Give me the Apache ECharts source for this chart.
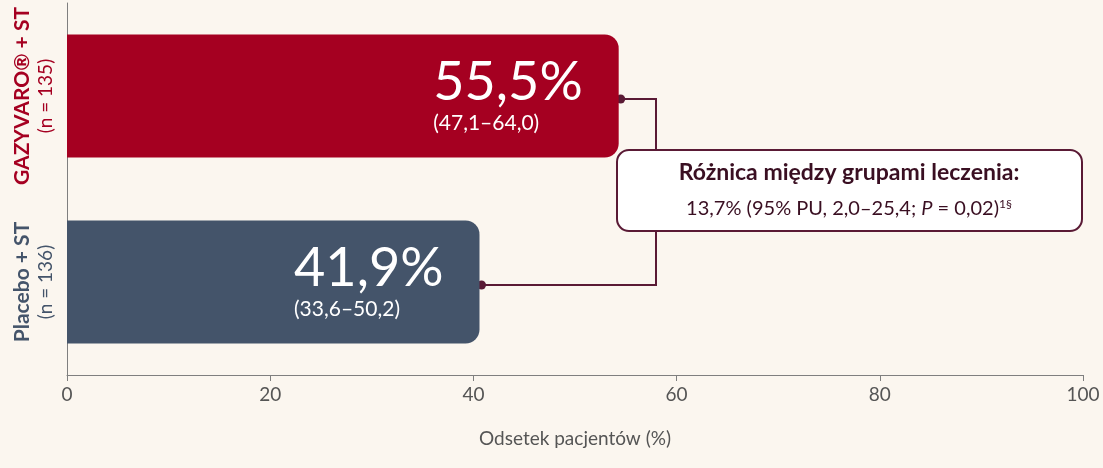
<!DOCTYPE html><html><head><meta charset="utf-8">
<script src="https://cdn.jsdelivr.net/npm/echarts@6/dist/echarts.min.js"></script>
<style>html,body{margin:0;background:#fbf6ef}#c{width:1103px;height:468px}</style></head><body><div id="c"></div>
<script>
const categories=['Placebo + ST','GAZYVARO® + ST'];
const groupN=['(n = 136)','(n = 135)'];
const barValues=[40.6,54.3];
const pctLabels=['41,9%','55,5%'];
const ciLabels=['(33,6–50,2)','(47,1–64,0)'];
const colors=['#44546a','#a50021'];
const xTicks=[0,20,40,60,80,100];
const F='Lato, "Noto Sans", sans-serif';
const chart=echarts.init(document.getElementById('c'));
chart.setOption({
 backgroundColor:'#fbf6ef',
 grid:{left:67,right:20,top:3,bottom:93},
 xAxis:{type:'value',min:0,max:100,interval:20,
  axisLine:{show:true,lineStyle:{color:'#7f7f7f'}},axisTick:{show:true,length:6,lineStyle:{color:'#7f7f7f'}},
  splitLine:{show:false},axisLabel:{color:'#555',fontSize:19,fontFamily:F,margin:10},
  name:'Odsetek pacjentów (%)',nameLocation:'middle',nameGap:54,nameTextStyle:{color:'#555',fontSize:19,fontFamily:F}},
 yAxis:{type:'category',data:categories,axisLine:{lineStyle:{color:'#7f7f7f'}},axisTick:{show:false},
  axisLabel:{show:false}},
 series:[{type:'bar',barWidth:123,data:barValues.map((v,i)=>({value:v,itemStyle:{color:colors[i],borderRadius:[0,14,14,0]},
  label:{show:true,position:'insideRight',distance:36,
   formatter:'{a|'+pctLabels[i]+'}\n{b|'+ciLabels[i]+'}',
   rich:{a:{color:'#fff',fontSize:54,fontFamily:F,align:'left',lineHeight:54},
         b:{color:'#fff',fontSize:21,fontFamily:F,align:'left',lineHeight:26}}}}))}]
});
const g=[];
categories.forEach((c,i)=>{
 const p=chart.convertToPixel({yAxisIndex:0},c);
 g.push({type:'text',x:22,y:p,rotation:Math.PI/2,style:{text:c,fill:colors[i],font:'bold 21px '+F,align:'center',verticalAlign:'middle'}});
 g.push({type:'text',x:46,y:p,rotation:Math.PI/2,style:{text:groupN[i],fill:colors[i],font:'19px '+F,align:'center',verticalAlign:'middle'}});
});
const p1=chart.convertToPixel({xAxisIndex:0,yAxisIndex:0},[barValues[1],categories[1]]);
const p0=chart.convertToPixel({xAxisIndex:0,yAxisIndex:0},[barValues[0],categories[0]]);
const bx=656, col='#5a1a35';
g.push({type:'polyline',shape:{points:[[p1[0]+2,p1[1]+3],[bx,p1[1]+3],[bx,p0[1]+3],[p0[0]+2,p0[1]+3]]},style:{stroke:col,lineWidth:2,fill:null}});
g.push({type:'circle',shape:{cx:p1[0]+2,cy:p1[1]+3,r:4.5},style:{fill:col}});
g.push({type:'circle',shape:{cx:p0[0]+2,cy:p0[1]+3,r:4.5},style:{fill:col}});
g.push({type:'rect',shape:{x:617,y:150,width:465,height:81,r:12},style:{fill:'#fff',stroke:col,lineWidth:2}});
g.push({type:'text',x:849,y:173,style:{text:'Różnica między grupami leczenia:',fill:'#3a0f22',font:'bold 23px '+F,align:'center',verticalAlign:'middle'}});
g.push({type:'text',x:849,y:209,style:{text:'{n|13,7% (95% PU, 2,0–25,4; }{i|P}{n| = 0,02)}{s|1§}',align:'center',verticalAlign:'middle',
 rich:{n:{fill:'#3a0f22',fontSize:20,fontFamily:F},i:{fill:'#3a0f22',fontSize:20,fontFamily:F,fontStyle:'italic'},s:{fill:'#3a0f22',fontSize:12,fontFamily:F,verticalAlign:'top',padding:[0,0,10,0]}}}});
chart.setOption({graphic:g});
</script></body></html>
